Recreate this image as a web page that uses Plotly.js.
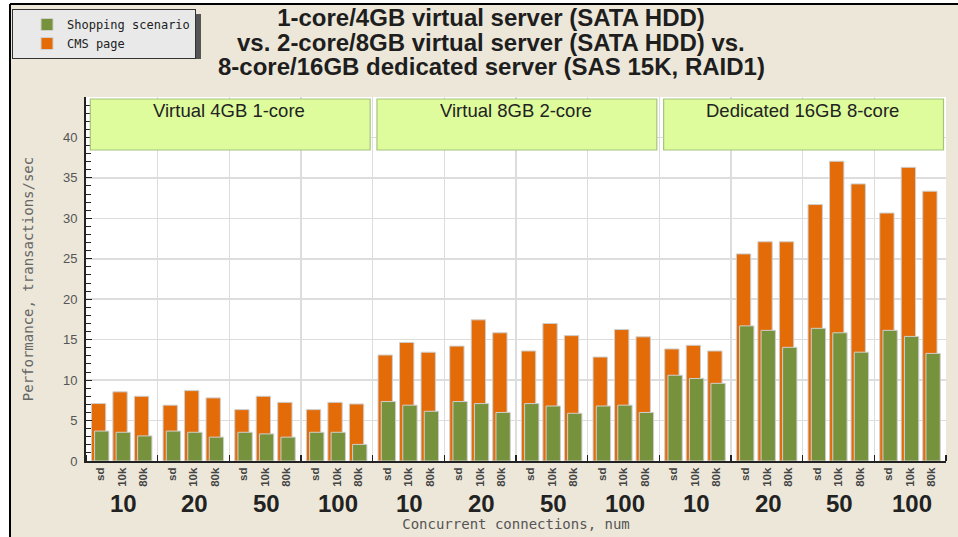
<!DOCTYPE html>
<html>
<head>
<meta charset="utf-8">
<script src="https://cdn.plot.ly/plotly-3.0.1.min.js"></script>
<style>
html,body{margin:0;padding:0;background:#ffffff;}
#chart{width:958px;height:537px;}
</style>
</head>
<body>
<div id="chart"></div>
<script>
// ---- data ----
var servers = ['Virtual 4GB 1-core', 'Virtual 8GB 2-core', 'Dedicated 16GB 8-core'];
var connections = ['10', '20', '50', '100'];
var sizes = ['sd', '10k', '80k'];
var seriesNames = ['Shopping scenario', 'CMS page'];
var shopping = [
  3.7, 3.55, 3.1,   3.7, 3.55, 2.95,   3.55, 3.35, 2.95,   3.55, 3.55, 2.05,
  7.35, 6.9, 6.15,  7.35, 7.1, 6.0,    7.1, 6.8, 5.9,      6.8, 6.9, 6.0,
  10.6, 10.2, 9.6,  16.7, 16.15, 14.05, 16.4, 15.85, 13.45, 16.15, 15.4, 13.3
];
var cms = [
  7.1, 8.55, 8.0,   6.9, 8.7, 7.8,     6.35, 8.0, 7.25,    6.35, 7.25, 7.05,
  13.1, 14.65, 13.45, 14.2, 17.45, 15.85, 13.6, 17.0, 15.5, 12.85, 16.25, 15.35,
  13.85, 14.3, 13.6, 25.6, 27.1, 27.1,  31.7, 37.05, 34.25, 30.65, 36.3, 33.35
];
var titleLines = [
  '1-core/4GB virtual server (SATA HDD)',
  'vs. 2-core/8GB virtual server (SATA HDD) vs.',
  '8-core/16GB dedicated server (SAS 15K, RAID1)'
];
var yTitle = 'Performance, transactions/sec';
var xTitle = 'Concurrent connections, num';

// ---- layout helpers ----
var W = 958, H = 537;
var M = {l: 86, r: 12, t: 97, b: 76, autoexpand: false};
var PW = W - M.l - M.r, PH = H - M.t - M.b;
function px2x(p) { return (p - M.l) / PW; }
function px2y(p) { return (H - M.b - p) / PH; }

var nGroups = servers.length * connections.length;
var slot = 0.3;
var xBase = [], tickText = [];
for (var g = 0; g < nGroups; g++) {
  for (var j = 0; j < sizes.length; j++) {
    xBase.push(g + 0.5 + (j - 1) * slot);
    tickText.push(sizes[j]);
  }
}
var xCms = xBase.map(function (v) { return v - 0.025; });
var xShop = xBase.map(function (v) { return v + 0.02; });
var boundaries = [];
for (var b = 0; b <= nGroups; b++) boundaries.push(b);

// CMS drawn first (behind), shopping in front; legend order by rank
var traces = [
  {type: 'bar', name: seriesNames[1], x: xCms, y: cms, width: 0.2, legendrank: 2,
   marker: {color: '#e36c09', line: {color: '#cfcfcf', width: 1}}},
  {type: 'bar', name: seriesNames[0], x: xShop, y: shopping, width: 0.2, legendrank: 1,
   marker: {color: '#77923c', line: {color: '#cfcfcf', width: 1}}}
];

var shapes = [];
var annotations = [];
var sansFont = 'Liberation Sans, Arial, sans-serif';
var monoFont = 'DejaVu Sans Mono, monospace';
// white margin left and top, black frame lines
shapes.push({type: 'rect', xref: 'paper', yref: 'paper', x0: px2x(-20), x1: px2x(10), y0: px2y(600), y1: px2y(-20), fillcolor: '#ffffff', line: {width: 0}, layer: 'above'});
shapes.push({type: 'rect', xref: 'paper', yref: 'paper', x0: px2x(-20), x1: px2x(990), y0: px2y(4), y1: px2y(-20), fillcolor: '#ffffff', line: {width: 0}, layer: 'above'});
shapes.push({type: 'line', xref: 'paper', yref: 'paper', x0: px2x(10), x1: px2x(990), y0: px2y(4), y1: px2y(4), line: {color: '#000', width: 2}, layer: 'above'});
shapes.push({type: 'line', xref: 'paper', yref: 'paper', x0: px2x(10), x1: px2x(10), y0: px2y(4), y1: px2y(600), line: {color: '#000', width: 2}, layer: 'above'});
// legend shadow
shapes.push({type: 'rect', xref: 'paper', yref: 'paper', x0: px2x(16), x1: px2x(201), y0: px2y(59), y1: px2y(14), fillcolor: '#555', line: {width: 0}, layer: 'above'});

// title lines 2 and 3
var titleCenters = [18, 42, 66];
for (var t = 1; t < titleLines.length; t++) {
  annotations.push({xref: 'paper', yref: 'paper', x: px2x(491), y: px2y(titleCenters[t]), text: titleLines[t],
    showarrow: false, xanchor: 'center', yanchor: 'middle',
    font: {family: sansFont, size: 24, color: '#1e1e1e', weight: 'bold'}});
}

// server boxes
for (var s = 0; s < servers.length; s++) {
  var g0 = s * connections.length;
  shapes.push({type: 'rect', xref: 'x', yref: 'paper', x0: g0 + 0.06, x1: g0 + connections.length - 0.035,
    y0: px2y(150), y1: px2y(99), fillcolor: '#defc9c', line: {color: '#a6c47c', width: 1.2}, layer: 'above'});
  annotations.push({xref: 'x', yref: 'paper', x: g0 + connections.length / 2, y: px2y(110.5), text: servers[s],
    showarrow: false, font: {family: sansFont, size: 18.5, color: '#222'}, yanchor: 'middle'});
  for (var c = 0; c < connections.length; c++) {
    annotations.push({xref: 'x', yref: 'paper', x: g0 + c + 0.52, y: px2y(503), text: connections[c],
      showarrow: false, font: {family: sansFont, size: 24, color: '#222', weight: 'bold'}, yanchor: 'middle'});
  }
}

var layout = {
  width: W, height: H,
  margin: M,
  paper_bgcolor: '#ece7d9',
  plot_bgcolor: '#ffffff',
  barmode: 'overlay',
  bargap: 0,
  title: {text: titleLines[0], xref: 'container', x: 491 / W, xanchor: 'center', yref: 'container', y: 1 - titleCenters[0] / H, yanchor: 'middle',
    font: {family: sansFont, size: 24, color: '#1e1e1e', weight: 'bold'}},
  showlegend: true,
  legend: {x: px2x(12), y: px2y(9), xanchor: 'left', yanchor: 'top', bgcolor: '#e9e9e9', bordercolor: '#333', borderwidth: 1,
    font: {family: monoFont, size: 12, color: '#222'}, traceorder: 'normal', indentation: 14},
  xaxis: {
    type: 'linear', range: [0, nGroups], tickmode: 'array', tickvals: xBase, ticktext: tickText,
    tickangle: -90, ticks: '', showgrid: false, zeroline: false, automargin: false,
    showline: true, linecolor: '#222', linewidth: 2,
    tickfont: {family: sansFont, size: 11.5, color: '#444', weight: 'bold'},
    minor: {tickmode: 'array', tickvals: boundaries, ticks: 'inside', ticklen: 6, tickcolor: '#222', tickwidth: 1.5,
      showgrid: true, gridcolor: '#dddddd', gridwidth: 1.5},
    title: {text: xTitle, standoff: 33, font: {family: monoFont, size: 14, color: '#555'}},
    fixedrange: true
  },
  yaxis: {
    range: [0, PH / 8.09], tick0: 0, dtick: 5, ticks: 'inside', ticklen: 6, tickcolor: '#222',
    showgrid: true, gridcolor: '#dddddd', gridwidth: 1.5, zeroline: false, automargin: false,
    showline: true, linecolor: '#222', linewidth: 2,
    tickfont: {family: sansFont, size: 13, color: '#555'},
    ticklabelstandoff: 4,
    minor: {dtick: 1, ticks: 'inside', ticklen: 5, tickcolor: '#222', showgrid: false},
    title: {text: yTitle, standoff: 26, font: {family: monoFont, size: 14, color: '#666'}},
    fixedrange: true
  },
  shapes: shapes,
  annotations: annotations
};

Plotly.newPlot('chart', traces, layout, {displayModeBar: false, staticPlot: true});
</script>
</body>
</html>
